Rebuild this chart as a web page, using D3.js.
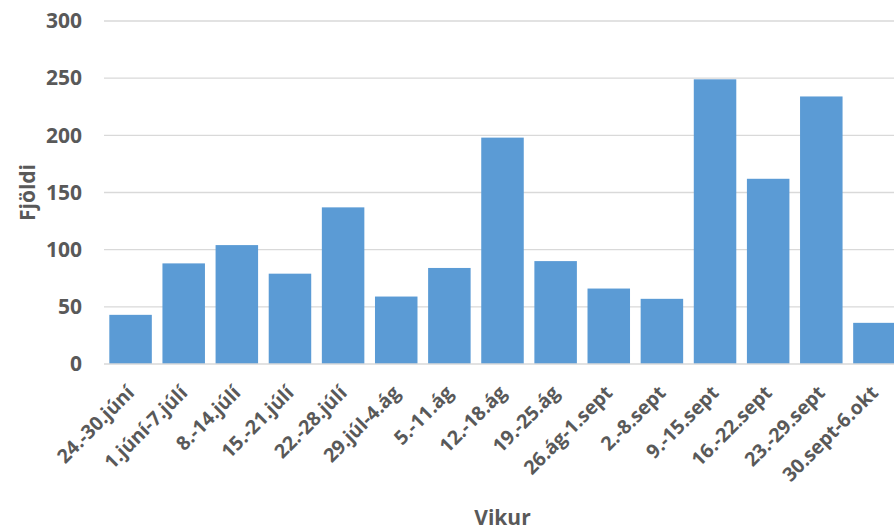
<!DOCTYPE html>
<html>
<head>
<meta charset="utf-8">
<script src="https://cdn.jsdelivr.net/npm/d3@7/dist/d3.min.js"></script>
<style>
  html, body { margin: 0; padding: 0; background: #fff; overflow: hidden; }
  svg { display: block; }
  text { font-family: "Open Sans", Lato, sans-serif; font-weight: bold; fill: #595959; }
</style>
</head>
<body>
<svg id="chart" width="894" height="531"></svg>
<script>
const categories = ["24.-30.júní", "1.júní-7.júlí", "8.-14.júlí", "15.-21.júlí", "22.-28.júlí",
  "29.júl-4.ág", "5.-11.ág", "12.-18.ág", "19.-25.ág", "26.ág-1.sept", "2.-8.sept",
  "9.-15.sept", "16.-22.sept", "23.-29.sept", "30.sept-6.okt"];
const values = [43, 88, 104, 79, 137, 59, 84, 198, 90, 66, 57, 249, 162, 234, 36];
const yTicks = [0, 50, 100, 150, 200, 250, 300];
const xTitle = "Vikur";
const yTitle = "Fjöldi";

const svg = d3.select("#chart");
const mLeft = 104, mRight = 901, mTop = 21, mBottom = 364;
const fontSize = 21;

const x = d3.scaleBand().domain(categories).range([mLeft, mRight]).paddingInner(0.2).paddingOuter(0.1);
const y = d3.scaleLinear().domain([0, 300]).range([mBottom, mTop]);

// gridlines
svg.append("g").selectAll("line").data(yTicks.filter(d => d > 0)).join("line")
  .attr("x1", mLeft).attr("x2", mRight)
  .attr("y1", d => y(d)).attr("y2", d => y(d))
  .attr("stroke", "#d9d9d9").attr("stroke-width", 1.3);

// bars
svg.append("g").selectAll("rect").data(values).join("rect")
  .attr("x", (d, i) => x(categories[i]))
  .attr("width", x.bandwidth())
  .attr("y", d => y(d))
  .attr("height", d => y(0) - y(d))
  .attr("fill", "#5b9bd5");

// baseline axis
svg.append("line").attr("x1", mLeft).attr("x2", mRight)
  .attr("y1", y(0)).attr("y2", y(0))
  .attr("stroke", "#d9d9d9").attr("stroke-width", 1.5);

// y tick labels
const yAxis = d3.axisLeft(y).tickValues(yTicks).tickSize(0).tickPadding(22);
const gy = svg.append("g").attr("transform", `translate(${mLeft},0)`).call(yAxis);
gy.select(".domain").remove();
gy.selectAll("text").attr("font-size", fontSize).attr("fill", "#595959")
  .style("font-family", "'Open Sans', Lato, sans-serif").style("font-weight", "bold");

// x tick labels
svg.append("g").selectAll("text").data(categories).join("text")
  .attr("transform", d => `translate(${x(d) + x.bandwidth() / 2 + 5},${mBottom + 30}) rotate(-45)`)
  .attr("text-anchor", "end")
  .attr("font-size", 19.5)
  .text(d => d);

// axis titles
svg.append("text").attr("x", (mLeft + mRight) / 2).attr("y", 525)
  .attr("text-anchor", "middle").attr("font-size", fontSize).text(xTitle);
svg.append("text").attr("transform", `translate(35,${(mTop + mBottom) / 2}) rotate(-90)`)
  .attr("text-anchor", "middle").attr("font-size", fontSize).text(yTitle);
</script>
</body>
</html>
